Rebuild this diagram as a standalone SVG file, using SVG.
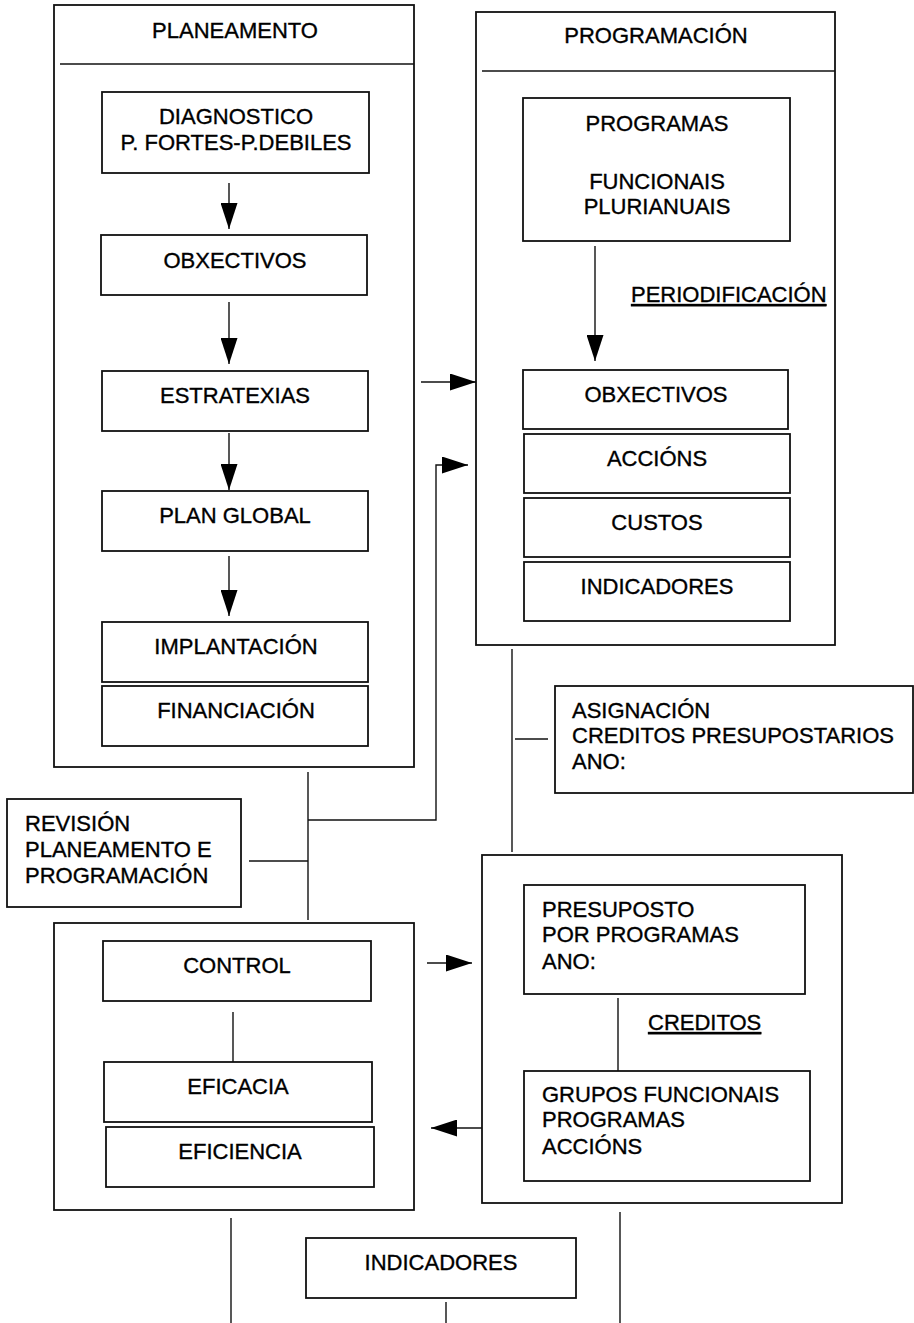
<svg xmlns="http://www.w3.org/2000/svg" width="914" height="1323" viewBox="0 0 914 1323">
<style>
  .box{fill:none;stroke:#111;stroke-width:1.8}
  .ln{fill:none;stroke:#111;stroke-width:1.4}
  text{font-family:"Liberation Sans",Arial,sans-serif;font-size:22px;fill:#000;stroke:#000;stroke-width:0.35}
  .c{text-anchor:middle}
  .u{text-decoration:underline}
</style>
<defs>
  <marker id="ah" markerUnits="userSpaceOnUse" markerWidth="27" markerHeight="17" refX="26" refY="8.5" orient="auto">
    <path d="M0,0 L26,8.5 L0,17 Z" fill="#000"/>
  </marker>
</defs>
<rect width="914" height="1323" fill="#fff"/>

<g id="planeamento">
  <rect class="box" x="54" y="5" width="360" height="762"/>
  <line class="ln" x1="60" y1="64" x2="414" y2="64"/>
  <text class="c" x="235" y="38">PLANEAMENTO</text>
</g>
<g id="diagnostico">
  <rect class="box" x="102" y="92" width="267" height="81"/>
  <text class="c" x="236" y="124">DIAGNOSTICO</text>
  <text class="c" x="236" y="150">P. FORTES-P.DEBILES</text>
</g>
<g id="obxectivos-p">
  <rect class="box" x="101" y="235" width="266" height="60"/>
  <text class="c" x="235" y="268">OBXECTIVOS</text>
</g>
<g id="estratexias">
  <rect class="box" x="102" y="371" width="266" height="60"/>
  <text class="c" x="235" y="403">ESTRATEXIAS</text>
</g>
<g id="plan-global">
  <rect class="box" x="102" y="491" width="266" height="60"/>
  <text class="c" x="235" y="523">PLAN GLOBAL</text>
</g>
<g id="implantacion">
  <rect class="box" x="102" y="622" width="266" height="60"/>
  <text class="c" x="236" y="654">IMPLANTACIÓN</text>
</g>
<g id="financiacion">
  <rect class="box" x="102" y="686" width="266" height="60"/>
  <text class="c" x="236" y="718">FINANCIACIÓN</text>
</g>

<g id="programacion">
  <rect class="box" x="476" y="12" width="359" height="633"/>
  <line class="ln" x1="482" y1="71" x2="835" y2="71"/>
  <text class="c" x="656" y="43">PROGRAMACIÓN</text>
</g>
<g id="programas">
  <rect class="box" x="523" y="98" width="267" height="143"/>
  <text class="c" x="657" y="131">PROGRAMAS</text>
  <text class="c" x="657" y="189">FUNCIONAIS</text>
  <text class="c" x="657" y="214">PLURIANUAIS</text>
</g>
<g id="periodificacion">
  <text class="u" x="631" y="302">PERIODIFICACIÓN</text>
</g>
<g id="obxectivos-r">
  <rect class="box" x="523" y="370" width="265" height="59"/>
  <text class="c" x="656" y="402">OBXECTIVOS</text>
</g>
<g id="accions">
  <rect class="box" x="524" y="434" width="266" height="59"/>
  <text class="c" x="657" y="466">ACCIÓNS</text>
</g>
<g id="custos">
  <rect class="box" x="524" y="498" width="266" height="59"/>
  <text class="c" x="657" y="530">CUSTOS</text>
</g>
<g id="indicadores-r">
  <rect class="box" x="524" y="562" width="266" height="59"/>
  <text class="c" x="657" y="594">INDICADORES</text>
</g>

<g id="asignacion">
  <rect class="box" x="555" y="686" width="358" height="107"/>
  <text x="572" y="718">ASIGNACIÓN</text>
  <text x="572" y="743">CREDITOS PRESUPOSTARIOS</text>
  <text x="572" y="769">ANO:</text>
</g>

<g id="revision">
  <rect class="box" x="7" y="799" width="234" height="108"/>
  <text x="25" y="831">REVISIÓN</text>
  <text x="25" y="857">PLANEAMENTO E</text>
  <text x="25" y="883">PROGRAMACIÓN</text>
</g>

<g id="control-group">
  <rect class="box" x="54" y="923" width="360" height="287"/>
</g>
<g id="control">
  <rect class="box" x="103" y="941" width="268" height="60"/>
  <text class="c" x="237" y="973">CONTROL</text>
</g>
<g id="eficacia">
  <rect class="box" x="104" y="1062" width="268" height="60"/>
  <text class="c" x="238" y="1094">EFICACIA</text>
</g>
<g id="eficiencia">
  <rect class="box" x="106" y="1127" width="268" height="60"/>
  <text class="c" x="240" y="1159">EFICIENCIA</text>
</g>

<g id="presuposto-group">
  <rect class="box" x="482" y="855" width="360" height="348"/>
</g>
<g id="presuposto">
  <rect class="box" x="524" y="885" width="281" height="109"/>
  <text x="542" y="917">PRESUPOSTO</text>
  <text x="542" y="942">POR PROGRAMAS</text>
  <text x="542" y="969">ANO:</text>
</g>
<g id="creditos">
  <text class="u" x="648" y="1030">CREDITOS</text>
</g>
<g id="grupos">
  <rect class="box" x="524" y="1071" width="286" height="110"/>
  <text x="542" y="1102">GRUPOS FUNCIONAIS</text>
  <text x="542" y="1127">PROGRAMAS</text>
  <text x="542" y="1154">ACCIÓNS</text>
</g>

<g id="indicadores-b">
  <rect class="box" x="306" y="1238" width="270" height="60"/>
  <text class="c" x="441" y="1270">INDICADORES</text>
</g>

<g id="connectors">
  <line class="ln" x1="229" y1="183" x2="229" y2="229" marker-end="url(#ah)"/>
  <line class="ln" x1="229" y1="302" x2="229" y2="364" marker-end="url(#ah)"/>
  <line class="ln" x1="229" y1="433" x2="229" y2="490" marker-end="url(#ah)"/>
  <line class="ln" x1="229" y1="556" x2="229" y2="616" marker-end="url(#ah)"/>
  <line class="ln" x1="595" y1="246" x2="595" y2="361" marker-end="url(#ah)"/>
  <line class="ln" x1="421" y1="382" x2="476" y2="382" marker-end="url(#ah)"/>
  <polyline class="ln" points="308,820 436,820 436,465 468,465" marker-end="url(#ah)"/>
  <line class="ln" x1="308" y1="772" x2="308" y2="920"/>
  <line class="ln" x1="249" y1="861" x2="308" y2="861"/>
  <line class="ln" x1="512" y1="649" x2="512" y2="852"/>
  <line class="ln" x1="515" y1="739" x2="548" y2="739"/>
  <line class="ln" x1="427" y1="963" x2="472" y2="963" marker-end="url(#ah)"/>
  <line class="ln" x1="482" y1="1128" x2="431" y2="1128" marker-end="url(#ah)"/>
  <line class="ln" x1="233" y1="1012" x2="233" y2="1062"/>
  <line class="ln" x1="618" y1="998" x2="618" y2="1071"/>
  <line class="ln" x1="231" y1="1218" x2="231" y2="1323"/>
  <line class="ln" x1="620" y1="1212" x2="620" y2="1323"/>
  <line class="ln" x1="446" y1="1302" x2="446" y2="1323"/>
</g>
</svg>
